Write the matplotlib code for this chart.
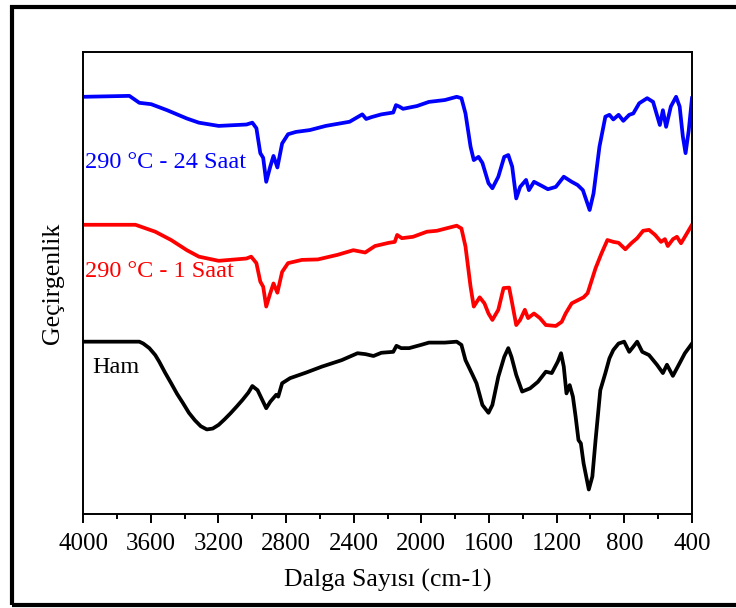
import matplotlib
matplotlib.use("Agg")
import matplotlib.pyplot as plt
from matplotlib.patches import Rectangle
from matplotlib.ticker import MultipleLocator

plt.rcParams['font.family'] = ['Liberation Serif', 'DejaVu Serif']

# FTIR spectra: wavenumber (cm-1) and offset transmittance (a.u.)
wn_24h = [3995, 3726, 3667, 3597, 3503, 3386, 3315, 3198, 3034, 2999, 2975, 2952,
          2935, 2917, 2893, 2874, 2851, 2823, 2788, 2741, 2659, 2565, 2424, 2349,
          2326, 2295, 2236, 2166, 2150, 2131, 2108, 2026, 1955, 1861, 1791, 1763,
          1739, 1709, 1690, 1662, 1639, 1603, 1580, 1545, 1510, 1486, 1463, 1439,
          1416, 1381, 1364, 1334, 1287, 1252, 1205, 1158, 1111, 1076, 1045, 1005,
          982, 947, 912, 888, 865, 834, 806, 771, 747, 712, 665, 630, 590, 572,
          553, 525, 494, 473, 454, 438, 419, 400]
t_24h = [90.3, 90.5, 89.0, 88.7, 87.4, 85.6, 84.7, 84.0, 84.3, 84.7, 83.5, 78.1,
         77.1, 71.9, 75.2, 77.5, 75.0, 80.2, 82.2, 82.7, 83.1, 84.0, 84.9, 86.5,
         85.5, 85.9, 86.5, 86.9, 88.5, 88.2, 87.7, 88.3, 89.2, 89.6, 90.3, 90.0,
         86.7, 79.5, 76.6, 77.3, 76.0, 71.6, 70.5, 73.0, 77.3, 77.7, 75.2, 68.3,
         70.8, 72.3, 70.1, 71.9, 71.0, 70.3, 70.8, 73.0, 71.9, 71.2, 70.1, 65.8,
         69.4, 79.5, 86.0, 86.4, 85.4, 86.4, 85.1, 86.4, 86.7, 88.9, 90.0, 89.2,
         84.2, 87.4, 83.8, 88.2, 90.3, 88.2, 81.7, 78.1, 83.1, 90.0]

wn_1h = [3995, 3690, 3573, 3479, 3386, 3315, 3198, 3034, 3006, 2975, 2952, 2935,
         2917, 2893, 2874, 2851, 2823, 2788, 2706, 2612, 2495, 2402, 2332, 2274,
         2192, 2157, 2143, 2115, 2049, 1967, 1908, 1791, 1763, 1739, 1709, 1690,
         1655, 1627, 1603, 1580, 1545, 1514, 1481, 1463, 1439, 1416, 1388, 1369,
         1334, 1299, 1264, 1205, 1170, 1147, 1111, 1041, 1017, 970, 935, 900, 865,
         834, 794, 759, 724, 689, 654, 618, 583, 560, 543, 512, 489, 465, 442, 400]
t_1h = [62.6, 62.6, 61.1, 59.3, 57.1, 55.7, 54.8, 55.3, 55.7, 54.3, 50.3, 49.2,
        44.9, 47.8, 49.9, 47.9, 52.4, 54.3, 55.0, 55.1, 56.1, 57.1, 56.6, 58.0,
        58.7, 58.9, 60.4, 59.7, 60.0, 61.1, 61.3, 62.4, 61.8, 57.9, 49.2, 44.9,
        46.9, 45.6, 43.4, 42.0, 44.2, 48.9, 49.0, 45.6, 40.9, 42.0, 44.2, 42.4,
        43.4, 42.4, 40.9, 40.7, 41.6, 43.4, 45.6, 46.9, 47.8, 53.2, 56.4, 59.3,
        58.9, 58.7, 57.3, 58.6, 59.7, 61.3, 61.5, 60.4, 58.9, 59.5, 58.0, 59.5,
        60.0, 58.6, 60.0, 62.6]

wn_ham = [3995, 3667, 3644, 3608, 3573, 3550, 3515, 3479, 3444, 3409, 3374, 3339,
          3304, 3268, 3233, 3198, 3163, 3128, 3093, 3057, 3022, 2999,
          2968, 2917, 2893, 2858, 2846, 2823, 2776, 2682, 2588, 2471, 2377, 2330,
          2283, 2236, 2166, 2147, 2119, 2072, 2002, 1955, 1861, 1791, 1763, 1739,
          1697, 1674, 1639, 1603, 1580, 1545, 1510, 1486, 1467, 1439, 1404, 1357,
          1311, 1264, 1229, 1193, 1174, 1158, 1142, 1123, 1104, 1088, 1071, 1057,
          1041, 1010, 989, 970, 942, 912, 888, 865, 834, 801, 771, 747, 724, 694,
          654, 607, 572, 548, 513, 478, 442, 400]
t_ham = [37.3, 37.3, 36.9, 35.9, 34.4, 33.0, 30.6, 28.3, 26.0, 24.0, 21.9, 20.3,
         19.0, 18.3, 18.5, 19.3, 20.5, 21.8, 23.2, 24.7, 26.3, 27.7,
         26.8, 22.9, 24.3, 25.8, 25.4, 28.3, 29.4, 30.6, 31.9, 33.3, 34.8, 34.6,
         34.2, 34.9, 35.1, 36.4, 35.9, 35.9, 36.6, 37.1, 37.1, 37.3, 36.6, 33.3,
         30.1, 28.3, 23.6, 21.9, 23.6, 29.7, 34.0, 35.9, 34.0, 30.1, 26.5, 27.2,
         28.6, 30.8, 30.5, 33.0, 34.8, 31.9, 26.1, 27.9, 25.4, 21.1, 16.0, 15.3,
         11.0, 5.3, 8.1, 16.0, 26.8, 30.5, 33.7, 35.5, 36.9, 37.3, 35.1, 36.2,
         37.3, 35.1, 34.4, 32.3, 30.5, 32.3, 29.9, 32.3, 34.8, 36.9]

labels = ["290 °C - 24 Saat", "290 °C - 1 Saat", "Ham"]
colors = ["#0000ff", "#ff0000", "#000000"]

fig = plt.figure(figsize=(7.36, 6.08), dpi=100)
ax = fig.add_axes([0.1128, 0.1546, 0.8274, 0.7599])

ax.plot(wn_24h, t_24h, color=colors[0], lw=2.7)
ax.plot(wn_1h, t_1h, color=colors[1], lw=2.7)
ax.plot(wn_ham, t_ham, color=colors[2], lw=2.7)

ax.text(3988, 76.0, labels[0], color=colors[0], fontsize=17.5, va='center')
ax.text(3990, 52.4, labels[1], color=colors[1], fontsize=17.5, va='center')
ax.text(3945, 31.8, labels[2], color=colors[2], fontsize=17.5, va='center')

ax.set_xlim(4000, 400)
ax.set_ylim(0, 100)
ax.xaxis.set_major_locator(MultipleLocator(400))
ax.xaxis.set_minor_locator(MultipleLocator(200))
ax.tick_params(axis='x', which='major', direction='out', length=6.5, width=1.4,
               labelsize=18, pad=7)
ax.tick_params(axis='x', which='minor', direction='out', length=3.8, width=1.4)
ax.set_yticks([])
for s in ax.spines.values():
    s.set_linewidth(1.4)

ax.set_xlabel("Dalga Sayısı (cm-1)", fontsize=18.5, labelpad=10)
ax.set_ylabel("Geçirgenlik", fontsize=18.5, labelpad=14)

# thick frame around the whole figure
fig.patches.append(Rectangle((12 / 736, 3 / 608), 1.0, 598 / 608,
                             transform=fig.transFigure, fill=False,
                             edgecolor='black', lw=3.0, clip_on=False))

fig.savefig("out.png", dpi=100)
